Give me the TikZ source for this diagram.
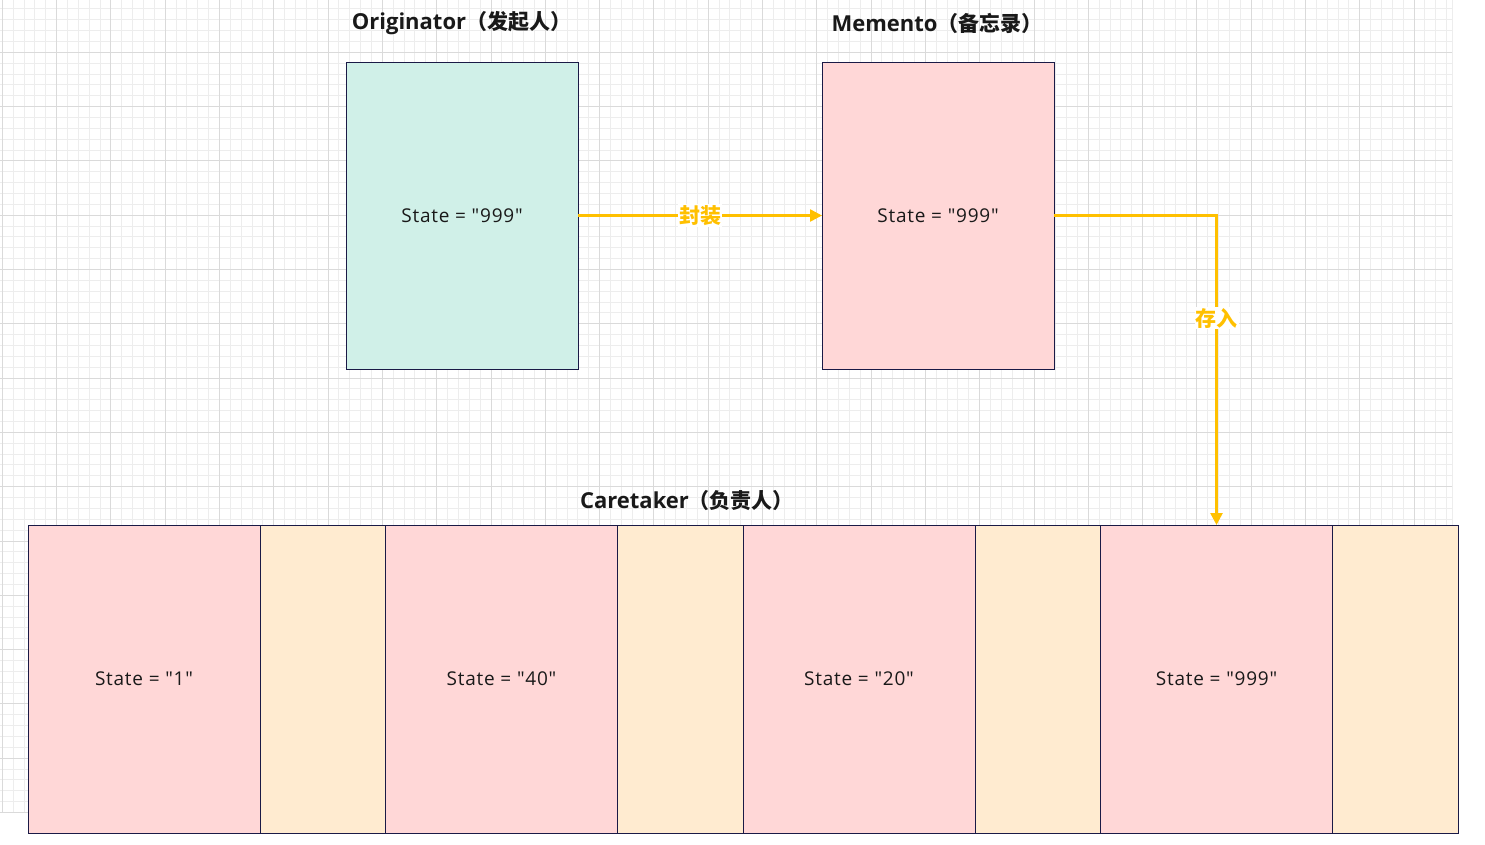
\documentclass[tikz,border=0pt]{standalone}
\usepackage{fontspec}
\setmainfont{Open Sans}[Ligatures=TeXOff]
\newfontfamily\cjk{Noto Sans CJK SC}
\usetikzlibrary{positioning,arrows.meta}

\definecolor{gridminor}{HTML}{EDEDED}
\definecolor{gridmajor}{HTML}{DADADA}
\definecolor{boxline}{HTML}{1A1A46}
\definecolor{tealfill}{HTML}{D0F0E8}
\definecolor{pinkfill}{HTML}{FFD7D7}
\definecolor{peachfill}{HTML}{FFEBD0}
\definecolor{linkyellow}{HTML}{FFC000}

\begin{document}
\begin{tikzpicture}[
  x=1pt, y=-1pt,
  node distance=0pt,
  every node/.style={inner sep=0pt, outer sep=0pt},
  title/.style={font=\fontsize{22}{26}\selectfont\bfseries, text=black!90},
  holder/.style={draw=boxline, line width=0.8pt, minimum width=232pt,
    minimum height=307pt, text=black!90,
    font=\fontsize{19}{22}\selectfont\addfontfeatures{LetterSpace=4}},
  slot/.style={holder, fill=pinkfill, minimum height=308pt},
  spacer/.style={slot, fill=peachfill, minimum width=125.5pt},
  link/.style={draw=linkyellow, line width=2.5pt,
    -{Triangle[length=12pt,width=12pt]}},
  linklabel/.style={fill=white, text=linkyellow, inner sep=1pt,
    font=\cjk\fontsize{21}{24}\selectfont\bfseries}
]
  \useasboundingbox (0,0) rectangle (1485,844);

  % background grid
  \begin{scope}[line width=1pt]
    \clip (0,0) rectangle (1452,813);
    \foreach \i in {0,...,134}
      \draw[gridminor] ({2.3+10.86*\i},0) -- ++(0,813);
    \foreach \j in {0,...,75}
      \draw[gridminor] (0,{-2+10.86*\j}) -- ++(1452,0);
    \foreach \i in {0,...,26}
      \draw[gridmajor] ({2.3+54.3*\i},0) -- ++(0,813);
    \foreach \j in {0,...,15}
      \draw[gridmajor] (0,{-2+54.3*\j}) -- ++(1452,0);
  \end{scope}
  \draw[gridminor, line width=1pt] (1452,0) -- (1452,813);

  % originator and memento
  \node[title] (origtitle) at (461.5,23.5) {Originator{\cjk\fontsize{21}{25}\selectfont（发起人）}};
  \node[holder, fill=tealfill] (orig) at (462,215.5) {State = "999"};
  \node[holder, fill=pinkfill, right=244pt of orig] (memo) {State = "999"};
  \node[title] (memotitle) at (937,23.5) {Memento{\cjk\fontsize{21}{25}\selectfont（备忘录）}};

  % caretaker row
  \node[title] (caretitle) at (687,500.5) {Caretaker{\cjk\fontsize{21}{25}\selectfont（负责人）}};
  \node[slot] (slota) at (144,679) {State = "1"};
  \node[spacer, right=of slota] (gapa) {};
  \node[slot, right=of gapa] (slotb) {State = "40"};
  \node[spacer, right=of slotb] (gapb) {};
  \node[slot, right=of gapb] (slotc) {State = "20"};
  \node[spacer, right=of slotc] (gapc) {};
  \node[slot, right=of gapc] (slotd) {State = "999"};
  \node[spacer, right=of slotd] (gapd) {};

  \draw[link] (orig) -- node[linklabel] {封装} (memo);
  \draw[link] (memo.east) -| node[linklabel, pos=0.666] {存入} (slotd.north);
\end{tikzpicture}
\end{document}
